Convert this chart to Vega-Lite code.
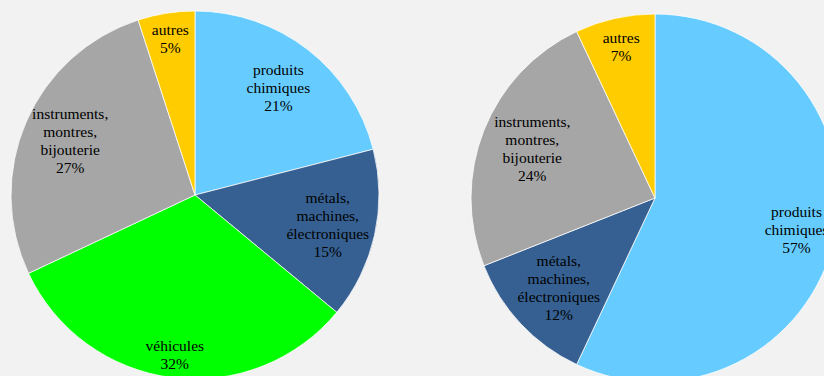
{
  "$schema": "https://vega.github.io/schema/vega-lite/v6.json",
  "background": "#f2f2f2",
  "padding": 0,
  "spacing": 70,
  "config": {"view": {"stroke": null}},
  "datasets": {
    "left": [
      {"category": "produits chimiques", "label": "produits\nchimiques", "share": 21, "ord": 1},
      {"category": "métals, machines, électroniques", "label": "métals,\nmachines,\nélectroniques", "share": 15, "ord": 2},
      {"category": "véhicules", "label": "véhicules", "share": 32, "ord": 3},
      {"category": "instruments, montres, bijouterie", "label": "instruments,\nmontres,\nbijouterie", "share": 27, "ord": 4},
      {"category": "autres", "label": "autres", "share": 5, "ord": 5}
    ],
    "right": [
      {"category": "produits chimiques", "label": "produits\nchimiques", "share": 57, "ord": 1},
      {"category": "métals, machines, électroniques", "label": "métals,\nmachines,\nélectroniques", "share": 12, "ord": 2},
      {"category": "instruments, montres, bijouterie", "label": "instruments,\nmontres,\nbijouterie", "share": 24, "ord": 4},
      {"category": "autres", "label": "autres", "share": 7, "ord": 5}
    ]
  },
  "hconcat": [
    {
      "width": 390,
      "height": 390,
      "data": {"name": "left"},
      "transform": [
        {"calculate": "datum.label + '\\n' + datum.share + '%'", "as": "text"},
        {"calculate": "length(split(datum.text, '\\n'))", "as": "nlines"}
      ],
      "encoding": {
        "theta": {"field": "share", "type": "quantitative", "stack": true},
        "order": {"field": "ord", "type": "quantitative"}
      },
      "layer": [
        {
          "mark": {"type": "arc", "outerRadius": 184, "stroke": "#ffffff", "strokeWidth": 0.75},
          "encoding": {
            "color": {
              "field": "category", "type": "nominal", "legend": null,
              "scale": {
                "domain": ["produits chimiques", "métals, machines, électroniques", "véhicules", "instruments, montres, bijouterie", "autres"],
                "range": ["#66ccff", "#366092", "#00ff00", "#a6a6a6", "#ffcc00"]
              }
            }
          }
        },
        {
          "mark": {"type": "text", "radius": {"expr": "datum.share < 10 ? 158 : datum.category == 'véhicules' ? 161 : 136"}, "dy": {"expr": "-(datum.nlines - 1) * 9"}, "font": "Liberation Serif", "fontSize": 15.5, "lineHeight": 18, "lineBreak": "\n", "color": "#000000", "baseline": "middle", "align": "center"},
          "encoding": {
            "text": {"field": "text", "type": "nominal"},
            "detail": {"field": "category", "type": "nominal"}
          }
        }
      ]
    },
    {
      "width": 390,
      "height": 396,
      "data": {"name": "right"},
      "transform": [
        {"calculate": "datum.label + '\\n' + datum.share + '%'", "as": "text"},
        {"calculate": "length(split(datum.text, '\\n'))", "as": "nlines"}
      ],
      "encoding": {
        "theta": {"field": "share", "type": "quantitative", "stack": true},
        "order": {"field": "ord", "type": "quantitative"}
      },
      "layer": [
        {
          "mark": {"type": "arc", "outerRadius": 184, "stroke": "#ffffff", "strokeWidth": 0.75},
          "encoding": {
            "color": {
              "field": "category", "type": "nominal", "legend": null,
              "scale": {
                "domain": ["produits chimiques", "métals, machines, électroniques", "véhicules", "instruments, montres, bijouterie", "autres"],
                "range": ["#66ccff", "#366092", "#00ff00", "#a6a6a6", "#ffcc00"]
              }
            }
          }
        },
        {
          "mark": {"type": "text", "radius": {"expr": "datum.share < 10 ? 155 : datum.share > 50 ? 145 : 132"}, "dy": {"expr": "-(datum.nlines - 1) * 9"}, "font": "Liberation Serif", "fontSize": 15.5, "lineHeight": 18, "lineBreak": "\n", "color": "#000000", "baseline": "middle", "align": "center"},
          "encoding": {
            "text": {"field": "text", "type": "nominal"},
            "detail": {"field": "category", "type": "nominal"}
          }
        }
      ]
    }
  ]
}
